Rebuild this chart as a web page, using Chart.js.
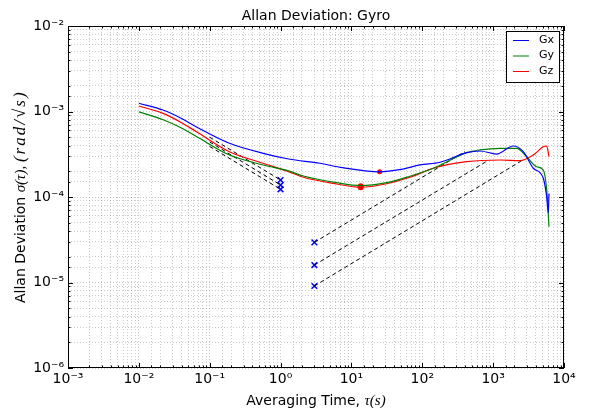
<!DOCTYPE html>
<html lang="es">
<head>
<meta charset="utf-8">
<title>Allan Deviation: Gyro</title>
<script src="https://cdn.jsdelivr.net/npm/chart.js@4.4.1/dist/chart.umd.min.js"></script>
<style>
    body { margin: 0; background: #fff; }
    canvas { display: block; }
</style>
</head>
<body>
<canvas id="graficoAllan" width="589" height="413"></canvas>
<script>
// Desviación de Allan de cada eje del giróscopo (tau en s, sigma en rad/sqrt(s))
const tauGx = [0.01, 0.022, 0.04, 0.065, 0.19, 0.57, 1.3, 3.6, 7, 25, 50, 93, 178, 424, 652, 1120, 1925, 2665, 3690, 5100, 5700, 6000, 6140];
const adevGx = [1.25e-3, 1.04e-3, 8.3e-4, 6.6e-4, 4.25e-4, 3.24e-4, 2.78e-4, 2.48e-4, 2.22e-4, 1.97e-4, 2.1e-4, 2.37e-4, 2.55e-4, 3.30e-4, 3.45e-4, 3.18e-4, 3.95e-4, 3.39e-4, 2.17e-4, 1.66e-4, 1.0e-4, 6.5e-5, 1.1e-4];

const tauGy = [0.01, 0.022, 0.04, 0.065, 0.19, 0.57, 1.3, 2.1, 6.2, 13.5, 31.5, 67, 143, 424, 652, 1250, 2150, 2975, 4115, 5100, 5700, 6140];
const adevGy = [9.9e-4, 8.0e-4, 6.4e-4, 5.1e-4, 3.1e-4, 2.37e-4, 2.02e-4, 1.76e-4, 1.47e-4, 1.36e-4, 1.47e-4, 1.75e-4, 2.17e-4, 3.30e-4, 3.55e-4, 3.71e-4, 3.71e-4, 2.96e-4, 2.26e-4, 2.07e-4, 1.21e-4, 4.5e-5];

const tauGz = [0.01, 0.022, 0.04, 0.065, 0.19, 0.57, 1.3, 2.1, 6.2, 13.5, 31.5, 67, 143, 424, 1250, 2390, 3690, 5100, 5700, 6140];
const adevGz = [1.16e-3, 9.5e-4, 7.4e-4, 5.8e-4, 3.39e-4, 2.48e-4, 1.98e-4, 1.70e-4, 1.42e-4, 1.30e-4, 1.43e-4, 1.70e-4, 2.17e-4, 2.59e-4, 2.71e-4, 2.66e-4, 3.10e-4, 3.87e-4, 3.95e-4, 2.96e-4];

const tauArw = [1, 1, 1];
const adevArw = [1.58e-4, 1.38e-4, 1.23e-4];
const tauRrw = [3, 3, 3];
const adevRrw = [2.95e-5, 1.6e-5, 9.1e-6];
const tauMin = [25, 13.5, 13.5];
const adevMin = [1.97e-4, 1.34e-4, 1.30e-4];

// Rectas de pendiente -1/2 (ARW) y +1/2 (RRW): extremos [tau, sigma]
const rectasArw = [
    [[0.1, 5.0e-4], [1, 1.58e-4]],
    [[0.1, 4.4e-4], [1, 1.38e-4]],
    [[0.1, 3.9e-4], [1, 1.23e-4]]
];
const rectasRrw = [
    [[3, 2.95e-5], [400, 3.4e-4]],
    [[3, 1.6e-5], [800, 2.6e-4]],
    [[3, 9.1e-6], [2700, 2.75e-4]]
];

// Etiquetas de las décadas
const xExp = [-3, -2, -1, 0, 1, 2, 3, 4];
const xTickLabels = ['10⁻³', '10⁻²', '10⁻¹', '10⁰', '10¹', '10²', '10³', '10⁴'];
const yExp = [-6, -5, -4, -3, -2];
const yTickLabels = ['10⁻⁶', '10⁻⁵', '10⁻⁴', '10⁻³', '10⁻²'];

const series = [
    { label: 'Gx', tau: tauGx, adev: adevGx, color: '#0000ff' },
    { label: 'Gy', tau: tauGy, adev: adevGy, color: '#008000' },
    { label: 'Gz', tau: tauGz, adev: adevGz, color: '#ff0000' }
];

function puntos(xs, ys) {
    return xs.map((x, i) => ({ x: x, y: ys[i] }));
}

function etiquetaDecada(valor, exps, labels) {
    const l = Math.log10(valor);
    const e = Math.round(l);
    if (Math.abs(l - e) > 1e-6) return '';
    const i = exps.indexOf(e);
    return i >= 0 ? labels[i] : '';
}

const datasets = [];

series.forEach(s => {
    datasets.push({
        label: s.label,
        data: puntos(s.tau, s.adev),
        showLine: true,
        borderColor: s.color,
        borderWidth: 1.2,
        pointRadius: 0,
        cubicInterpolationMode: 'monotone',
        enLeyenda: true
    });
});

rectasArw.concat(rectasRrw).forEach(r => {
    datasets.push({
        data: r.map(p => ({ x: p[0], y: p[1] })),
        showLine: true,
        borderColor: '#000',
        borderWidth: 1,
        borderDash: [4, 3],
        pointRadius: 0
    });
});

datasets.push({
    data: puntos(tauArw, adevArw).concat(puntos(tauRrw, adevRrw)),
    showLine: false,
    pointStyle: 'crossRot',
    pointRadius: 4,
    borderColor: '#0000ff',
    borderWidth: 1.5
});

datasets.push({
    data: puntos(tauMin, adevMin),
    showLine: false,
    pointStyle: 'circle',
    pointRadius: [2.5, 3, 3],
    backgroundColor: '#ff0000',
    borderColor: '#ff0000',
    borderWidth: 0
});

// Dibuja un texto con tramos de distintas fuentes; "esp" separa los caracteres del tramo
function textoMixto(ctx, partes, x, y, rot, anclaInicio) {
    ctx.save();
    ctx.translate(x, y);
    ctx.rotate(rot);
    const ancho = p => {
        ctx.font = p.font;
        return ctx.measureText(p.t).width + (p.esp || 0) * p.t.length;
    };
    let total = 0;
    partes.forEach(p => { total += ancho(p); });
    let cx = anclaInicio ? 0 : -total / 2;
    ctx.fillStyle = '#000';
    ctx.textBaseline = 'alphabetic';
    ctx.textAlign = 'left';
    partes.forEach(p => {
        ctx.font = p.font;
        if (p.esp) {
            for (const c of p.t) {
                ctx.fillText(c, cx, 0);
                cx += ctx.measureText(c).width + p.esp;
            }
        } else {
            ctx.fillText(p.t, cx, 0);
            cx += ctx.measureText(p.t).width;
        }
    });
    ctx.restore();
}

const marcoYEjes = {
    id: 'marcoYEjes',
    afterDraw(chart) {
        const ctx = chart.ctx;
        const a = chart.chartArea;
        const sx = chart.scales.x;
        const sy = chart.scales.y;

        // marco y marcas hacia dentro
        ctx.save();
        ctx.strokeStyle = '#000';
        ctx.lineWidth = 1;
        ctx.strokeRect(a.left + 0.5, a.top + 0.5, a.right - a.left - 1, a.bottom - a.top - 1);
        ctx.beginPath();
        sx.ticks.forEach(t => {
            const px = Math.round(sx.getPixelForValue(t.value)) + 0.5;
            const len = etiquetaDecada(t.value, xExp, xTickLabels) ? 5 : 2.5;
            ctx.moveTo(px, a.bottom); ctx.lineTo(px, a.bottom - len);
            ctx.moveTo(px, a.top); ctx.lineTo(px, a.top + len);
        });
        sy.ticks.forEach(t => {
            const py = Math.round(sy.getPixelForValue(t.value)) + 0.5;
            const len = etiquetaDecada(t.value, yExp, yTickLabels) ? 5 : 2.5;
            ctx.moveTo(a.left, py); ctx.lineTo(a.left + len, py);
            ctx.moveTo(a.right, py); ctx.lineTo(a.right - len, py);
        });
        ctx.stroke();
        ctx.restore();

        // título centrado sobre el área de trazado
        const sans = '14px "DejaVu Sans"';
        const mat = 'italic 15px "Liberation Serif"';
        textoMixto(ctx, [{ t: 'Allan Deviation: Gyro', font: sans }], (a.left + a.right) / 2, 20, 0, false);

        // títulos de los ejes
        textoMixto(ctx, [
            { t: 'Averaging Time, ', font: sans },
            { t: 'τ(s)', font: mat }
        ], (a.left + a.right) / 2, 405, 0, false);
        textoMixto(ctx, [
            { t: 'Allan Deviation ', font: sans },
            { t: 'σ(τ), ', font: mat },
            { t: '(rad/√s)', font: 'italic 17px "Liberation Serif"', esp: 2 }
        ], 25, 303, -Math.PI / 2, true);

        // leyenda
        const lx = 506, ly = 31, lw = 53, lh = 51;
        ctx.save();
        ctx.fillStyle = '#fff';
        ctx.fillRect(lx, ly, lw, lh);
        ctx.strokeStyle = '#000';
        ctx.lineWidth = 1;
        ctx.strokeRect(lx + 0.5, ly + 0.5, lw, lh);
        ctx.font = '11px "DejaVu Sans"';
        ctx.textBaseline = 'middle';
        ctx.textAlign = 'left';
        chart.data.datasets.filter(d => d.enLeyenda).forEach((d, i) => {
            const yy = ly + 9 + i * 15.5;
            ctx.strokeStyle = d.borderColor;
            ctx.beginPath();
            ctx.moveTo(lx + 7, yy + 0.5);
            ctx.lineTo(lx + 23, yy + 0.5);
            ctx.stroke();
            ctx.fillStyle = '#000';
            ctx.fillText(d.label, lx + 33, yy);
        });
        ctx.restore();
    }
};

const rejilla = {
    color: 'rgba(0, 0, 0, 0.35)',
    lineWidth: 0.6,
    drawTicks: false
};

Chart.defaults.font.family = '"DejaVu Sans"';
Chart.defaults.color = '#000';

new Chart(document.getElementById('graficoAllan').getContext('2d'), {
    type: 'scatter',
    data: { datasets: datasets },
    options: {
        responsive: false,
        animation: false,
        layout: { padding: { left: 0, right: 25, top: 26, bottom: 0 } },
        plugins: {
            legend: { display: false },
            tooltip: { enabled: false },
            title: { display: false }
        },
        scales: {
            x: {
                type: 'logarithmic',
                min: 1e-3,
                max: 1e4,
                grid: rejilla,
                border: { display: false, dash: [1, 2] },
                ticks: {
                    autoSkip: false,
                    maxRotation: 0,
                    padding: 3,
                    font: { size: 14 },
                    callback: v => etiquetaDecada(v, xExp, xTickLabels)
                },
                afterFit: s => { s.height = 45; }
            },
            y: {
                type: 'logarithmic',
                min: 1e-6,
                max: 1e-2,
                grid: rejilla,
                border: { display: false, dash: [1, 2] },
                ticks: {
                    autoSkip: false,
                    padding: 4,
                    font: { size: 14 },
                    callback: v => etiquetaDecada(v, yExp, yTickLabels)
                },
                afterFit: s => { s.width = 68; }
            }
        }
    },
    plugins: [marcoYEjes]
});
</script>
</body>
</html>
